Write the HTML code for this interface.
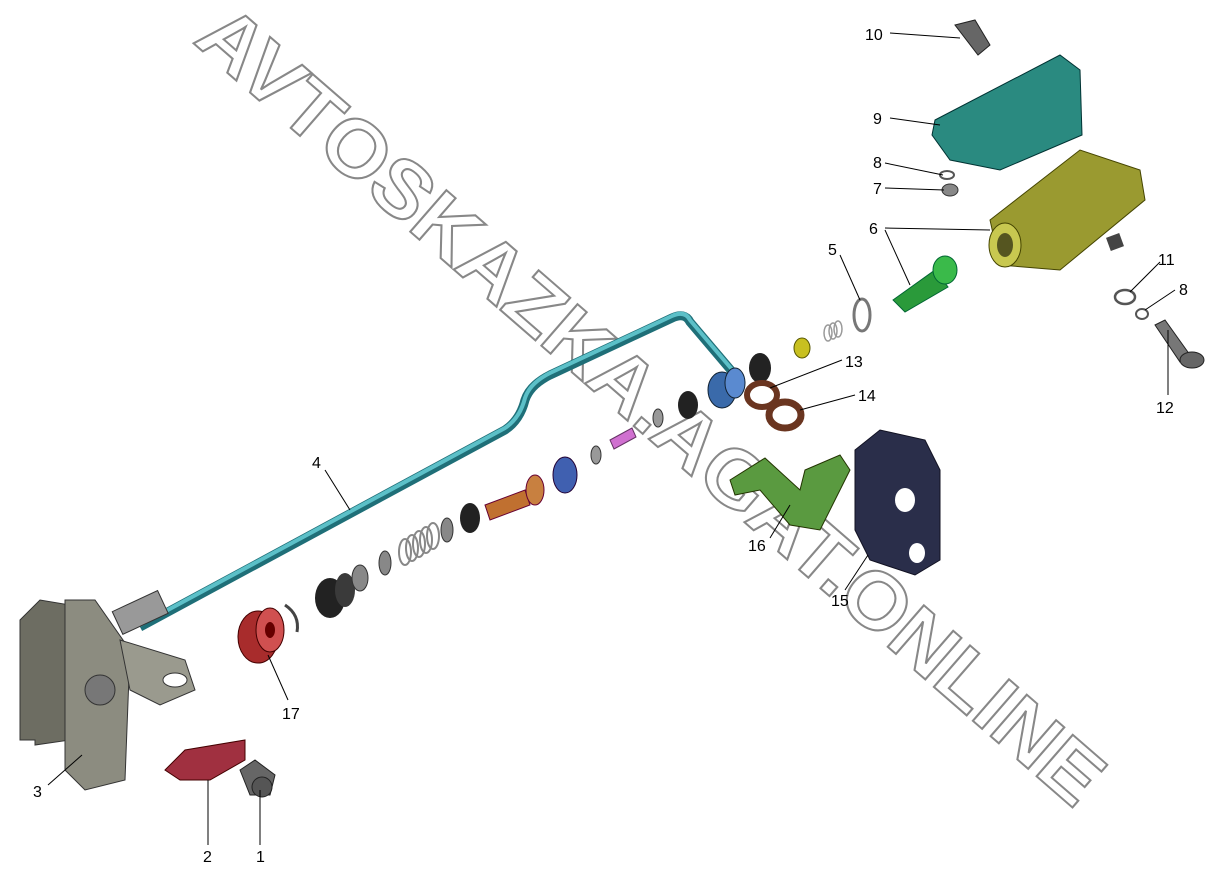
<!DOCTYPE html>
<html><head><meta charset="utf-8"><style>
html,body{margin:0;padding:0;background:#fff;width:1226px;height:880px;overflow:hidden}
svg{display:block}
text.l{font-family:"Liberation Sans",sans-serif;font-size:16px;fill:#000}
</style></head><body>
<svg width="1226" height="880" viewBox="0 0 1226 880" xmlns="http://www.w3.org/2000/svg">
<!-- watermark -->
<text x="0" y="0" transform="translate(192,42) rotate(41)" font-family="Liberation Sans,sans-serif" font-weight="bold" font-size="80" fill="#fff" stroke="#888" stroke-width="2" textLength="1170" lengthAdjust="spacingAndGlyphs">AVTOSKAZKA.AGAT.ONLINE</text>

<!-- rod 4 -->
<path d="M140,627 L505,430 Q520,420 525,400 Q530,385 550,375 L672,318 Q685,312 690,322 L735,375" fill="none" stroke="#1f6f78" stroke-width="9" stroke-linejoin="round"/>
<path d="M140,625 L505,428 Q520,418 525,398 Q530,383 550,373 L672,316 Q685,310 690,320 L735,373" fill="none" stroke="#5cc0c8" stroke-width="4"/>

<!-- bracket 3 -->
<polygon points="20,620 40,600 70,605 70,740 35,745 35,740 20,740" fill="#6d6d62" stroke="#333"/>
<polygon points="65,600 95,600 130,650 125,780 85,790 65,770" fill="#8c8c80" stroke="#333"/>
<polygon points="120,640 185,660 195,690 160,705 130,690" fill="#9a9a8e" stroke="#333"/>
<ellipse cx="175" cy="680" rx="12" ry="7" fill="#fff" stroke="#333"/>
<circle cx="100" cy="690" r="15" fill="#777" stroke="#333"/>
<rect x="115" y="600" width="50" height="25" fill="#999" stroke="#333" transform="rotate(-25 140 612)"/>

<!-- part 2 -->
<polygon points="165,770 185,750 245,740 245,760 210,780 180,780" fill="#a03040" stroke="#400"/>
<!-- part 1 bolt -->
<polygon points="240,770 255,760 275,775 270,795 250,795" fill="#666" stroke="#222"/>
<circle cx="262" cy="787" r="10" fill="#555" stroke="#222"/>

<!-- 17 -->
<ellipse cx="258" cy="637" rx="20" ry="26" fill="#a82c2c" stroke="#400"/>
<ellipse cx="270" cy="630" rx="14" ry="22" fill="#d05050" stroke="#400"/>
<ellipse cx="270" cy="630" rx="5" ry="8" fill="#600"/>
<path d="M285,605 Q300,615 297,632" fill="none" stroke="#444" stroke-width="3"/>
<!-- black bushing -->
<ellipse cx="330" cy="598" rx="15" ry="20" fill="#222"/>
<ellipse cx="345" cy="590" rx="10" ry="17" fill="#3a3a3a"/>
<ellipse cx="360" cy="578" rx="8" ry="13" fill="#888" stroke="#333"/>
<ellipse cx="385" cy="563" rx="6" ry="12" fill="#888" stroke="#333"/>
<!-- spring -->
<g stroke="#888" stroke-width="2" fill="none">
<ellipse cx="405" cy="552" rx="6" ry="13"/><ellipse cx="412" cy="548" rx="6" ry="13"/><ellipse cx="419" cy="544" rx="6" ry="13"/><ellipse cx="426" cy="540" rx="6" ry="13"/><ellipse cx="433" cy="536" rx="6" ry="13"/></g>
<ellipse cx="447" cy="530" rx="6" ry="12" fill="#888" stroke="#333"/>
<ellipse cx="470" cy="518" rx="10" ry="15" fill="#222"/>
<!-- orange pin -->
<polygon points="485,505 525,490 530,505 490,520" fill="#c07030" stroke="#603"/>
<ellipse cx="535" cy="490" rx="9" ry="15" fill="#c88040" stroke="#603"/>
<!-- blue ring -->
<ellipse cx="565" cy="475" rx="12" ry="18" fill="#4060b0" stroke="#203"/>
<ellipse cx="596" cy="455" rx="5" ry="9" fill="#999" stroke="#333"/>
<polygon points="610,440 632,428 636,437 614,449" fill="#d070d0" stroke="#636"/>
<ellipse cx="658" cy="418" rx="5" ry="9" fill="#999" stroke="#333"/>
<ellipse cx="688" cy="405" rx="10" ry="14" fill="#222"/>
<!-- blue cylinder -->
<ellipse cx="722" cy="390" rx="14" ry="18" fill="#3a6aaa" stroke="#123"/>
<ellipse cx="735" cy="383" rx="10" ry="15" fill="#5a8ad0" stroke="#123"/>
<ellipse cx="760" cy="368" rx="11" ry="15" fill="#222"/>
<!-- 13,14 rings -->
<ellipse cx="762" cy="395" rx="15" ry="12" fill="none" stroke="#6a3520" stroke-width="6"/>
<ellipse cx="785" cy="415" rx="16" ry="13" fill="none" stroke="#6a3520" stroke-width="7"/>
<!-- yellow nut -->
<ellipse cx="802" cy="348" rx="8" ry="10" fill="#c8c020" stroke="#550"/>
<g stroke="#999" stroke-width="1.5" fill="none"><ellipse cx="828" cy="333" rx="4" ry="8"/><ellipse cx="833" cy="331" rx="4" ry="8"/><ellipse cx="838" cy="329" rx="4" ry="8"/></g>
<ellipse cx="862" cy="315" rx="8" ry="16" fill="none" stroke="#777" stroke-width="3"/>
<!-- 6 green valve -->
<polygon points="893,300 935,270 948,287 905,312" fill="#2a9a3a" stroke="#063"/>
<ellipse cx="945" cy="270" rx="12" ry="14" fill="#3aba4a" stroke="#063"/>
<!-- 6 main body -->
<polygon points="990,220 1080,150 1140,170 1145,200 1060,270 1000,265" fill="#9a9a30" stroke="#440"/>
<ellipse cx="1005" cy="245" rx="16" ry="22" fill="#c8c850" stroke="#440"/>
<ellipse cx="1005" cy="245" rx="8" ry="12" fill="#555520"/>
<rect x="1108" y="235" width="14" height="14" fill="#444" transform="rotate(-20 1115 242)"/>
<!-- 9 plate -->
<polygon points="935,120 1060,55 1080,70 1082,135 1000,170 950,160 932,135" fill="#2a8a80" stroke="#033"/>
<!-- 10 -->
<polygon points="955,25 975,20 990,45 978,55" fill="#666" stroke="#222"/>
<!-- 8/7 -->
<ellipse cx="947" cy="175" rx="7" ry="4" fill="none" stroke="#555" stroke-width="2"/>
<ellipse cx="950" cy="190" rx="8" ry="6" fill="#888" stroke="#333"/>
<!-- 11,8,12 -->
<ellipse cx="1125" cy="297" rx="10" ry="7" fill="none" stroke="#555" stroke-width="2.5"/>
<ellipse cx="1142" cy="314" rx="6" ry="5" fill="none" stroke="#555" stroke-width="2"/>
<polygon points="1155,325 1165,320 1190,355 1180,362" fill="#777" stroke="#222"/>
<ellipse cx="1192" cy="360" rx="12" ry="8" fill="#666" stroke="#222"/>
<!-- 16 green bracket -->
<polygon points="730,480 765,458 800,490 805,470 840,455 850,470 820,530 790,525 760,490 735,495" fill="#5a9a40" stroke="#230"/>
<!-- 15 block -->
<polygon points="855,450 880,430 925,440 940,470 940,560 915,575 870,560 855,530" fill="#2a2e4a" stroke="#112"/>
<ellipse cx="905" cy="500" rx="10" ry="12" fill="#fff"/>
<ellipse cx="917" cy="553" rx="8" ry="10" fill="#fff"/>

<!-- leaders -->
<g stroke="#000" stroke-width="1" fill="none">
<line x1="890" y1="33" x2="960" y2="38"/>
<line x1="890" y1="118" x2="940" y2="125"/>
<line x1="885" y1="163" x2="943" y2="175"/>
<line x1="885" y1="188" x2="944" y2="190"/>
<line x1="885" y1="228" x2="990" y2="230"/>
<line x1="885" y1="230" x2="910" y2="285"/>
<line x1="840" y1="255" x2="860" y2="300"/>
<line x1="1160" y1="262" x2="1130" y2="292"/>
<line x1="1175" y1="290" x2="1145" y2="310"/>
<line x1="1168" y1="395" x2="1168" y2="330"/>
<line x1="842" y1="360" x2="770" y2="388"/>
<line x1="855" y1="395" x2="800" y2="410"/>
<line x1="325" y1="470" x2="350" y2="510"/>
<line x1="770" y1="538" x2="790" y2="505"/>
<line x1="845" y1="590" x2="868" y2="555"/>
<line x1="288" y1="700" x2="268" y2="655"/>
<line x1="48" y1="785" x2="82" y2="755"/>
<line x1="208" y1="845" x2="208" y2="780"/>
<line x1="260" y1="845" x2="260" y2="790"/>
</g>
<text class="l" x="865" y="40">10</text>
<text class="l" x="873" y="124">9</text>
<text class="l" x="873" y="168">8</text>
<text class="l" x="873" y="194">7</text>
<text class="l" x="869" y="234">6</text>
<text class="l" x="828" y="255">5</text>
<text class="l" x="1158" y="265">11</text>
<text class="l" x="1179" y="295">8</text>
<text class="l" x="1156" y="413">12</text>
<text class="l" x="845" y="367">13</text>
<text class="l" x="858" y="401">14</text>
<text class="l" x="312" y="468">4</text>
<text class="l" x="748" y="551">16</text>
<text class="l" x="831" y="606">15</text>
<text class="l" x="282" y="719">17</text>
<text class="l" x="33" y="797">3</text>
<text class="l" x="203" y="862">2</text>
<text class="l" x="256" y="862">1</text>
</svg>
</body></html>
